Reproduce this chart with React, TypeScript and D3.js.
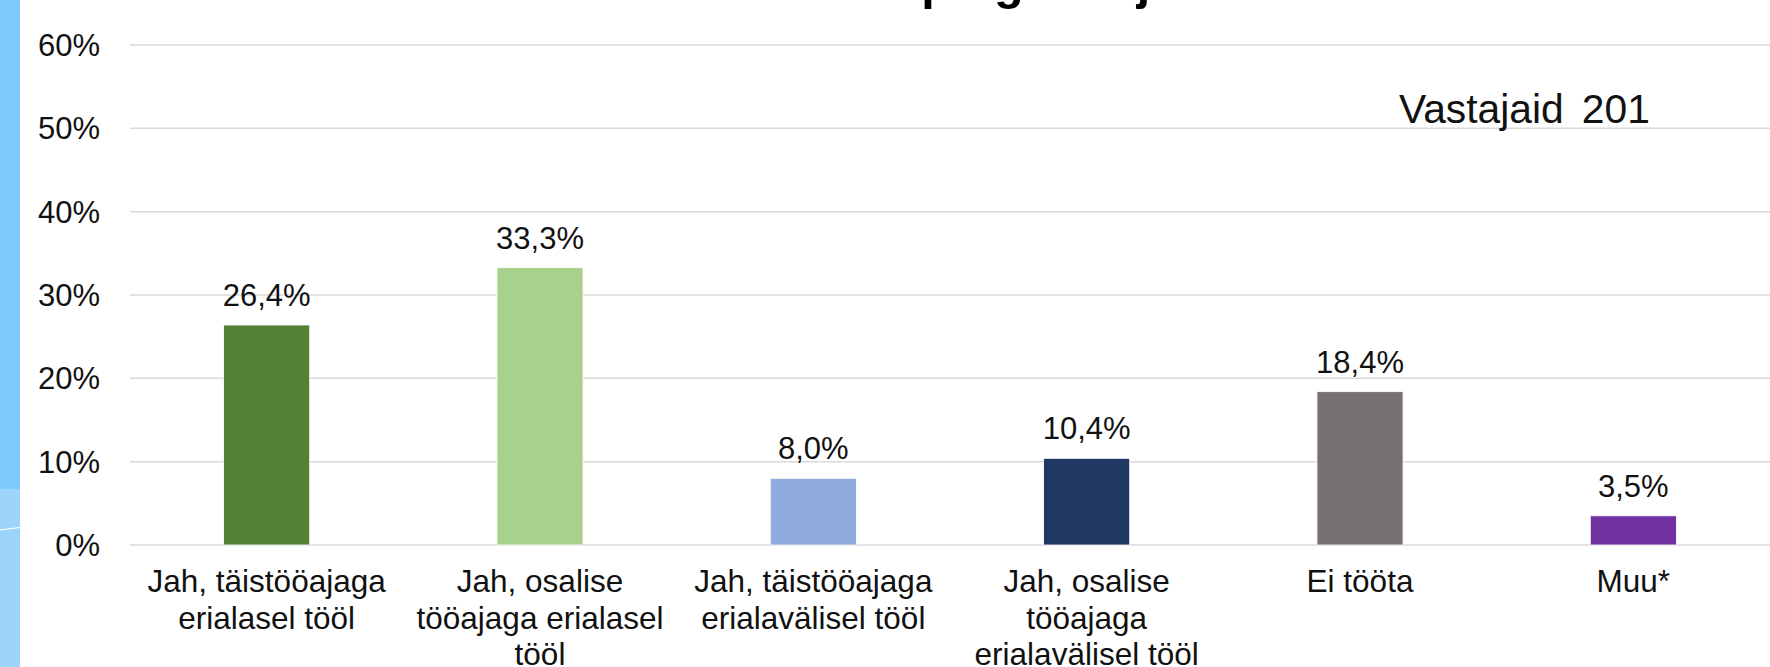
import React from "react";
import * as d3 from "d3";

const categories: string[][] = [
  ["Jah, täistööajaga", "erialasel tööl"],
  ["Jah, osalise", "tööajaga erialasel", "tööl"],
  ["Jah, täistööajaga", "erialavälisel tööl"],
  ["Jah, osalise", "tööajaga", "erialavälisel tööl"],
  ["Ei tööta"],
  ["Muu*"],
];
const values: number[] = [0.264, 0.333, 0.08, 0.104, 0.184, 0.035];
const valueLabels: string[] = ["26,4%", "33,3%", "8,0%", "10,4%", "18,4%", "3,5%"];
const colors: string[] = ["#548235", "#A9D18E", "#8FAADC", "#203864", "#767171", "#7030A0"];
const yTicks: number[] = [0, 0.1, 0.2, 0.3, 0.4, 0.5, 0.6];
const yTickLabels: string[] = ["0%", "10%", "20%", "30%", "40%", "50%", "60%"];
const title = "Töötamine õpingute ajal";
const noteWord = "Vastajaid";
const noteCount = "201";

const W = 1770;
const H = 667;
const FONT = "'Liberation Sans', Arial, sans-serif";

export default function App() {
  const x = d3
    .scaleBand<number>()
    .domain(d3.range(values.length))
    .range([130, 1770])
    .paddingInner(0.685)
    .paddingOuter(0.3425);
  const y = d3.scaleLinear().domain([0, 0.6]).range([545, 45]);

  return (
    <svg
      width={W}
      height={H}
      style={{ position: "absolute", left: 0, top: 0, background: "#fff" }}
      fontFamily={FONT}
    >
      <rect x={0} y={0} width={W} height={H} fill="#ffffff" />
      {/* left decorative strip */}
      <rect x={0} y={0} width={20} height={489} fill="#7ECBFB" />
      <rect x={0} y={489} width={20} height={H - 489} fill="#9DD5FA" />
      <line x1={0} y1={530} x2={20} y2={527.5} stroke="#ffffff" strokeWidth={1.2} />

      {/* title (cut off at top) */}
      <text x={633} y={-1} fontSize={48.5} fontWeight="bold" fill="#000">
        {title}
      </text>

      {/* gridlines */}
      {yTicks.map((t, i) => (
        <line
          key={"g" + i}
          x1={130}
          x2={W}
          y1={y(t)}
          y2={y(t)}
          stroke="#D9D9D9"
          strokeWidth={1.5}
        />
      ))}
      {/* y labels */}
      {yTicks.map((t, i) => (
        <text
          key={"yl" + i}
          x={100}
          y={y(t) + 11}
          textAnchor="end"
          fontSize={31}
          fill="#111"
        >
          {yTickLabels[i]}
        </text>
      ))}

      {/* bars */}
      {values.map((v, i) => (
        <rect
          key={"b" + i}
          x={x(i)!}
          y={y(v)}
          width={x.bandwidth()}
          height={y(0) - y(v)}
          fill={colors[i]}
          stroke="#ffffff"
          strokeWidth={0.8}
        />
      ))}
      {/* value labels */}
      {values.map((v, i) => (
        <text
          key={"v" + i}
          x={x(i)! + x.bandwidth() / 2}
          y={y(v) - 19}
          textAnchor="middle"
          fontSize={31}
          fill="#111"
        >
          {valueLabels[i]}
        </text>
      ))}

      {/* category labels */}
      {categories.map((lines, i) => (
        <text
          key={"c" + i}
          textAnchor="middle"
          fontSize={31.5}
          fill="#111"
        >
          {lines.map((ln, j) => (
            <tspan key={j} x={x(i)! + x.bandwidth() / 2} y={592 + j * 36.7}>
              {ln}
            </tspan>
          ))}
        </text>
      ))}

      {/* respondents note */}
      <text x={1399} y={123} fontSize={40.8} fill="#111">
        <tspan>{noteWord}</tspan>
        <tspan dx={18}>{noteCount}</tspan>
      </text>
    </svg>
  );
}
